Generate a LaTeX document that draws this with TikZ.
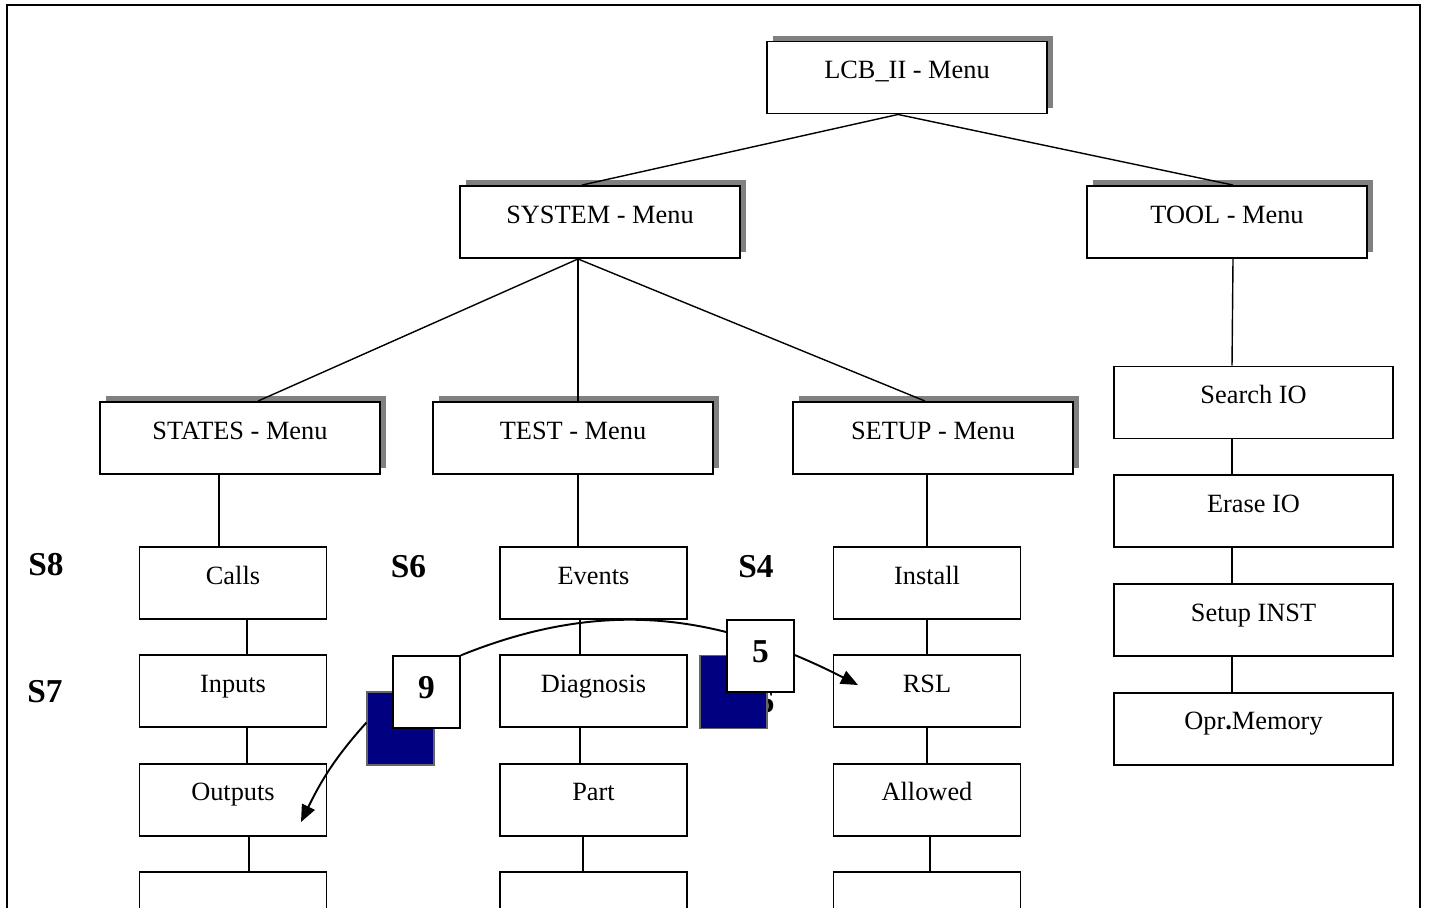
\documentclass[tikz,border=0pt]{standalone}
\usepackage{fontspec}
\setmainfont{Liberation Serif}
\usetikzlibrary{arrows.meta, shadows}
\definecolor{cnavy}{HTML}{000080}
\definecolor{cshade}{HTML}{808080}
\pgfdeclarelayer{front}
\pgfsetlayers{main,front}
\tikzset{
  every picture/.style={line width=0.8pt},
  box/.style={draw, fill=white, line width=1.1pt, minimum width=#1, minimum height=1.44cm, inner sep=0pt, font=\fontsize{15}{18}\selectfont, text height=10pt, text depth=8.5pt},
  box/.default=3.74cm,
  menu/.style={box=5.6cm, drop shadow={shadow xshift=0.12cm, shadow yshift=0.12cm, opacity=1, fill=cshade, draw=none}},
  tag/.style={font=\fontsize{19}{23}\selectfont\bfseries, inner sep=0pt},
  numbox/.style={draw, fill=white, line width=1.1pt, minimum width=1.34cm, minimum height=1.43cm, inner sep=0pt, font=\fontsize{19}{23}\selectfont\bfseries, text height=13pt, text depth=6pt},
  navybox/.style={draw=black!60, line width=0.6pt, fill=cnavy, minimum width=1.34cm, minimum height=1.46cm, inner sep=0pt},
  arrow/.style={-{Triangle[length=3.4mm, width=2.8mm]}, line width=1.1pt},
}

\begin{document}
\begin{tikzpicture}[x=0.02cm, y=-0.02cm]
  \clip (0,0) rectangle (1429,907);
  \draw[line width=1.2pt] (7,5) rectangle (1420,960);
  % menus
  \node[menu] (lcb) at (907,77.5) {LCB\_II - Menu};
  \node[menu] (sys) at (600,222) {SYSTEM - Menu};
  \node[menu] (tool) at (1227,222) {TOOL - Menu};
  \node[menu] (states) at (240,438) {STATES - Menu};
  \node[menu] (test) at (573,438) {TEST - Menu};
  \node[menu] (setup) at (933,438) {SETUP - Menu};
  % columns of entries
  \foreach \n/\t [count=\i from 0] in {calls/Calls, inputs/Inputs, outputs/Outputs, stEnd/{}}
    \node[box] (\n) at (233,583+108.3*\i) {\t};
  \foreach \n/\t [count=\i from 0] in {events/Events, diag/Diagnosis, part/Part, teEnd/{}}
    \node[box] (\n) at (593.5,583+108.3*\i) {\t};
  \foreach \n/\t [count=\i from 0] in {install/Install, rsl/RSL, allowed/Allowed, seEnd/{}}
    \node[box] (\n) at (927,583+108.3*\i) {\t};
  \foreach \n/\t [count=\i from 0] in {search/Search IO, erase/Erase IO, setinst/Setup INST, oprmem/Opr\textbf{.}Memory}
    \node[box=5.58cm] (\n) at (1253.5,402.5+108.7*\i) {\t};
  % tree lines
  \draw ([shift={(-9,0)}]lcb.south) -- ([shift={(-18,0)}]sys.north);
  \draw ([shift={(-9,0)}]lcb.south) -- ([shift={(6,0)}]tool.north);
  \foreach \m/\d in {states/18, test/5, setup/-8}
    \draw ([shift={(-22,0)}]sys.south) -- ([shift={(\d,0)}]\m.north);
  \foreach \u/\l/\du/\dl in {states/calls/-21/-14, calls/inputs/14/14, inputs/outputs/14/14, outputs/stEnd/16/16,
                            test/events/5/-15.5, events/diag/-13.5/-13.5, diag/part/-13.5/-13.5, part/teEnd/-10.5/-10.5,
                            setup/install/-6/0, install/rsl/0/0, rsl/allowed/0/0, allowed/seEnd/3/3,
                            tool/search/6/-21.5, search/erase/-21.5/-21.5, erase/setinst/-21.5/-21.5, setinst/oprmem/-21.5/-21.5}
    \draw ([shift={(\du,0)}]\u.south) -- ([shift={(\dl,0)}]\l.north);
  % step labels
  \node[tag] (s8) at (46,565) {S8};
  \node[tag] (s7) at (45,692) {S7};
  \node[tag] (s6) at (408.5,566.5) {S6};
  \node[tag] (s4) at (756,566.5) {S4};
  \node[tag] (hid) at (766,702) {6};
  \node[navybox] (navyL) at (400.5,728.5) {};
  \node[navybox] (navyR) at (733.5,692) {};
  \coordinate (outTip) at (301,822);
  \coordinate (rslTip) at (858,685);
  \begin{pgfonlayer}{front}
    \node[numbox] (nine) at (426.5,692) {9};
    \node[numbox] (five) at (760.5,656) {5};
  \end{pgfonlayer}
  \draw[arrow] (nine.north east) to[out=22, in=153] (rslTip);
  \draw[arrow] (navyL.170) to[out=-132, in=64] (outTip);
\end{tikzpicture}
\end{document}
